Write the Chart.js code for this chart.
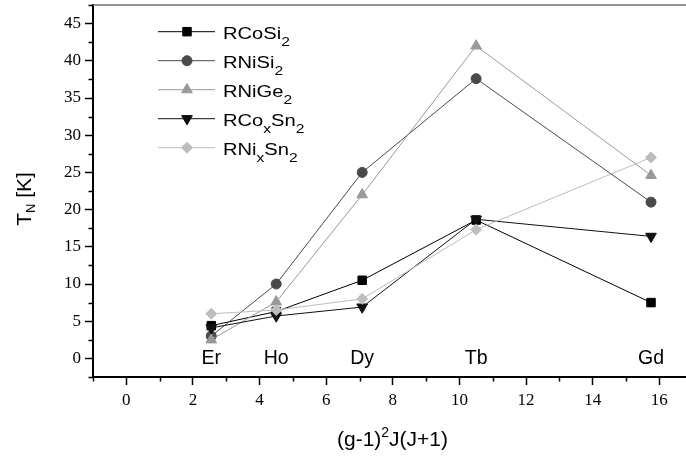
<!DOCTYPE html>
<html><head><meta charset="utf-8">
<script src="https://cdn.jsdelivr.net/npm/chart.js@4/dist/chart.umd.min.js"></script>
<style>html,body{margin:0;padding:0;background:#fff}#wrap{width:686px;height:456px;position:relative}</style>
</head><body><div id="wrap"><canvas id="c"></canvas></div>
<script>
// ---- data ----
const elements = ['Er', 'Ho', 'Dy', 'Tb', 'Gd'];
const deGennes = [2.55, 4.5, 7.08, 10.5, 15.75];
const RCoSi2  = [4.4, 6.3, 10.5, 18.6, 7.5];
const RNiSi2  = [3.0, 10.0, 25.0, 37.6, 21.0];
const RNiGe2  = [2.5, 7.6, 22.0, 42.0, 24.6];
const RCoxSn2 = [4.1, 5.7, 6.9, 18.7, 16.4];
const RNixSn2 = [6.0, 6.5, 8.0, 17.3, 27.0];
const seriesNames = ['RCoSi_2', 'RNiSi_2', 'RNiGe_2', 'RCo_xSn_2', 'RNi_xSn_2'];
const xTicks = [0, 2, 4, 6, 8, 10, 12, 14, 16];
const xMinorTicks = [-1, 1, 3, 5, 7, 9, 11, 13, 15];
const yTicks = [0, 5, 10, 15, 20, 25, 30, 35, 40, 45];
const yMinorTicks = [-2.5, 2.5, 7.5, 12.5, 17.5, 22.5, 27.5, 32.5, 37.5, 42.5, 47.5];
const xTitle = '(g-1)^2J(J+1)';
const yTitle = 'T_N [K]';

// ---- styles ----
const styles = [
  {line: '#000000', fill: '#000000', style: 'rect', r: 6, rot: 0},
  {line: '#4a4a4a', fill: '#4a4a4a', style: 'circle', r: 5, rot: 0},
  {line: '#999999', fill: '#999999', style: 'triangle', r: 6.2, rot: 0},
  {line: '#111111', fill: '#111111', style: 'triangle', r: 6.2, rot: 180},
  {line: '#bdbdbd', fill: '#bdbdbd', style: 'rectRot', r: 5.5, rot: 0}
];
const seriesValues = [RCoSi2, RNiSi2, RNiGe2, RCoxSn2, RNixSn2];

const SANS = '"Liberation Sans", Arial, sans-serif';
const SERIF = '"Liberation Serif", "Times New Roman", serif';

function richParts(str) {
  const parts = [];
  let i = 0, buf = '';
  while (i < str.length) {
    const c = str[i];
    if ((c === '_' || c === '^') && i + 1 < str.length) {
      if (buf) { parts.push({t: buf, k: 'n'}); buf = ''; }
      parts.push({t: str[i + 1], k: c === '_' ? 'sub' : 'sup'});
      i += 2;
    } else { buf += c; i++; }
  }
  if (buf) parts.push({t: buf, k: 'n'});
  return parts;
}
function drawRich(ctx, str, x, y, size, align, small, subOff, supOff) {
  const parts = richParts(str);
  small = small || Math.round(size * 0.68);
  subOff = subOff == null ? size * 0.32 : subOff;
  supOff = supOff == null ? size * 0.42 : supOff;
  let total = 0;
  parts.forEach(p => {
    ctx.font = (p.k === 'n' ? size : small) + 'px ' + SANS;
    p.w = ctx.measureText(p.t).width;
    total += p.w;
  });
  let cx = align === 'center' ? x - total / 2 : x;
  ctx.textAlign = 'left';
  ctx.textBaseline = 'alphabetic';
  parts.forEach(p => {
    ctx.font = (p.k === 'n' ? size : small) + 'px ' + SANS;
    let dy = 0;
    if (p.k === 'sub') dy = subOff;
    if (p.k === 'sup') dy = -supOff;
    ctx.fillText(p.t, cx, y + dy);
    cx += p.w;
  });
}

const decorPlugin = {
  id: 'decor',
  afterDraw(chart) {
    const ctx = chart.ctx;
    const xs = chart.scales.x, ys = chart.scales.y;
    const a = chart.chartArea;
    ctx.save();
    // top frame line
    ctx.strokeStyle = '#6e6e6e';
    ctx.lineWidth = 1.5;
    ctx.beginPath();
    ctx.moveTo(a.left, a.top);
    ctx.lineTo(a.right, a.top);
    ctx.stroke();
    // minor ticks
    ctx.strokeStyle = '#000';
    ctx.lineWidth = 1.5;
    xMinorTicks.forEach(v => {
      const px = Math.round(xs.getPixelForValue(v)) + 0.5;
      ctx.beginPath(); ctx.moveTo(px, a.bottom); ctx.lineTo(px, a.bottom + 4.5); ctx.stroke();
    });
    yMinorTicks.forEach(v => {
      const py = Math.round(ys.getPixelForValue(v)) + 0.5;
      ctx.beginPath(); ctx.moveTo(a.left, py); ctx.lineTo(a.left - 4.5, py); ctx.stroke();
    });
    // element labels
    ctx.fillStyle = '#000';
    ctx.font = '19.5px ' + SANS;
    ctx.textAlign = 'center';
    ctx.textBaseline = 'middle';
    elements.forEach((e, i) => {
      ctx.fillText(e, xs.getPixelForValue(deGennes[i]), ys.getPixelForValue(0) + 0.5);
    });
    // axis titles
    drawRich(ctx, xTitle, (a.left + a.right) / 2 + 3, 446, 21, 'center', 14, 0, 9);
    ctx.save();
    ctx.translate(31, 199);
    ctx.rotate(-Math.PI / 2);
    drawRich(ctx, yTitle, 0, 0, 21, 'center', 13, 4, 0);
    ctx.restore();
    // legend
    const lx0 = 158, lx1 = 215, mx = 187, tx = 223, ly0 = 31.7, dy = 29;
    seriesNames.forEach((name, i) => {
      const s = styles[i];
      const yy = ly0 + dy * i;
      ctx.strokeStyle = s.line;
      ctx.lineWidth = 1;
      ctx.beginPath(); ctx.moveTo(lx0, yy); ctx.lineTo(lx1, yy); ctx.stroke();
      ctx.fillStyle = s.fill; ctx.strokeStyle = s.fill;
      Chart.helpers.drawPoint(ctx, {pointStyle: s.style, radius: s.r, rotation: s.rot, borderWidth: 1}, mx, yy);
      ctx.fillStyle = '#000';
      ctx.save();
      ctx.translate(tx, yy + 7.3);
      ctx.scale(1.2, 1);
      drawRich(ctx, name, 0, 0, 16.8, 'left', 13, 7, 0);
      ctx.restore();
    });
    ctx.restore();
  }
};

const datasets = seriesValues.map((vals, i) => ({
  label: seriesNames[i],
  data: deGennes.map((x, j) => ({x: x, y: vals[j]})),
  showLine: true,
  borderColor: styles[i].line,
  borderWidth: 1,
  pointStyle: styles[i].style,
  pointRadius: styles[i].r,
  pointRotation: styles[i].rot,
  pointBackgroundColor: styles[i].fill,
  pointBorderColor: styles[i].fill,
  pointBorderWidth: 1,
  order: seriesValues.length - 1 - i
}));

function zeroPad(s) { s.paddingTop = 0; s.paddingBottom = 0; s.paddingLeft = 0; s.paddingRight = 0; }

Chart.defaults.font.family = SERIF;

new Chart(document.getElementById('c'), {
  type: 'scatter',
  data: {datasets},
  options: {
    responsive: true,
    maintainAspectRatio: false,
    animation: false,
    devicePixelRatio: 1,
    layout: {autoPadding: false, padding: {top: 5, right: 0, left: 0, bottom: 0}},
    plugins: {legend: {display: false}, tooltip: {enabled: false}},
    scales: {
      x: {
        type: 'linear', min: -1, max: 16.8,
        afterBuildTicks: s => { s.ticks = xTicks.map(v => ({value: v})); },
        afterFit: s => { s.height = 79; zeroPad(s); },
        grid: {drawOnChartArea: false, drawTicks: true, tickLength: 8, tickColor: '#000', tickWidth: 1.5},
        border: {display: true, color: '#000', width: 2},
        ticks: {color: '#000', font: {family: SERIF, size: 17}, padding: 5, maxRotation: 0, autoSkip: false}
      },
      y: {
        type: 'linear', min: -2.5, max: 47.5,
        afterBuildTicks: s => { s.ticks = yTicks.map(v => ({value: v})); },
        afterFit: s => { s.width = 93; zeroPad(s); },
        grid: {drawOnChartArea: false, drawTicks: true, tickLength: 8, tickColor: '#000', tickWidth: 1.5},
        border: {display: true, color: '#000', width: 2},
        ticks: {color: '#000', font: {family: SERIF, size: 17}, padding: 4, autoSkip: false}
      }
    }
  },
  plugins: [decorPlugin]
});
</script>
</body></html>
